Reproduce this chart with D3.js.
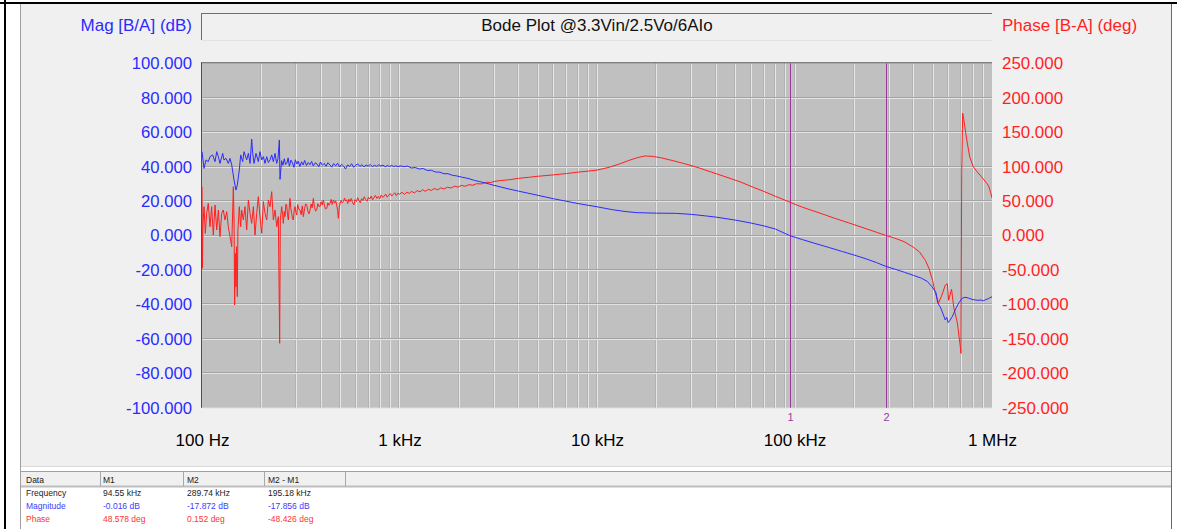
<!DOCTYPE html>
<html>
<head>
<meta charset="utf-8">
<script src="https://cdn.jsdelivr.net/npm/d3@7"></script>
<style>
  html, body { margin: 0; padding: 0; background: #ffffff; }
  svg { display: block; }
  text { font-family: "Liberation Sans", Arial, sans-serif; }
</style>
</head>
<body>
<svg id="chart" width="1180" height="529"></svg>
<script>
// ---- Measured loop response: gain (dB) ----
const magFreqHz = [
  100, 102.4, 104.8, 107.6, 109.8, 113.2, 116.4, 118.7, 121, 123.3, 127.3, 129.2, 132.3, 135.9, 138.6, 141.4,
  145.3, 148.6, 150.9, 154.5, 157, 160.7, 163.2, 168.4, 171.7, 175.1, 178.5, 180.6, 183.4, 187.7, 192.9, 196.6,
  200.6, 204.5, 208.5, 212.6, 216.8, 221, 225.4, 229.8, 234.3, 238.9, 242.6, 246.4, 248.3,
  253, 257, 261, 265, 269, 273, 277, 282, 287, 292, 297, 302, 307, 313, 319, 325,
  331, 338, 345, 352, 359, 366, 374, 382, 390, 398, 407, 416, 425, 434, 444, 454,
  464, 475, 486, 497, 509, 521, 533, 546, 559, 572, 586, 600, 615, 630, 645, 661,
  677, 694, 711, 729, 747, 766, 785, 805, 825, 846, 867, 889, 912, 935, 958, 982,
  1006, 1050, 1100, 1150, 1200, 1260, 1320, 1380, 1450, 1520, 1600, 1680, 1760, 1850, 1950, 2050,
  2150, 2250, 2400, 2550, 2700, 2850, 3000, 3500, 4000, 5000, 6000, 7000, 8000, 10000, 12000, 14000,
  16000, 20000, 25000, 30000, 35000, 40000, 50000, 60000, 70000, 80000, 94550, 110000, 130000, 150000, 175000, 200000,
  230000, 260000, 289740, 320000, 360000, 400000, 440000, 470000, 495000, 520000, 531000, 550000, 565000, 580000, 590000, 600000,
  610000, 630000, 655000, 680000, 705000, 730000, 760000, 800000, 850000, 880000, 900000, 930000, 960000, 1000000
];
const magDb = [
  48.7, 39.0, 43.9, 42.9, 45.8, 46.8, 42.9, 48.7, 45.8, 41.9, 47.7, 43.9, 44.8, 41.9, 44.8, 41.0,
  32.2, 26.4, 29.3, 38.1, 46.8, 42.9, 48.7, 43.9, 47.7, 41.9, 56.0, 47.7, 41.9, 47.7, 42.9, 48.7,
  43.9, 45.8, 41.9, 45.8, 42.4, 43.9, 46.8, 42.9, 47.7, 41.9, 44.8, 55.5, 32.6,
  43.5, 40.8, 44.6, 41.2, 42.0, 45.1, 40.3, 43.8, 42.2, 39.6, 44.0, 41.5, 43.2, 40.1, 42.8, 41.0,
  43.6, 40.6, 42.4, 41.1, 43.0, 40.4, 42.2, 41.6, 39.9, 42.7, 40.8, 41.9, 40.2, 42.3, 41.0, 39.7,
  41.8, 40.5, 42.0, 39.8, 41.4, 40.3, 38.6, 41.0, 40.1, 41.7, 39.6, 40.9, 41.6, 40.2, 41.1, 39.9,
  40.9, 40.3, 41.3, 40.0, 40.8, 40.2, 41.1, 40.4, 40.9, 39.9, 40.7, 40.1, 40.8, 40.0, 40.5, 39.9,
  40.5, 40.0, 40.3, 39.2, 39.5, 38.6, 38.9, 37.8, 37.9, 36.9, 36.8, 35.9, 35.9, 35.0, 34.6, 34.0,
  33.5, 33.0, 32.0, 31.3, 30.6, 29.9, 29.2, 27.3, 25.8, 23.4, 21.4, 19.9, 18.6, 16.7, 15.0, 13.9,
  13.3, 13.0, 12.9, 12.3, 11.5, 10.7, 9.0, 7.3, 5.6, 3.8, -0.016, -2.4, -4.9, -7.0, -9.3, -11.3,
  -13.5, -15.7, -17.872, -19.4, -21.3, -23.1, -24.8, -26.6, -29.5, -33.0, -39.0, -42.0, -45.5, -49.0, -47.5, -50.5,
  -49.5, -47.0, -42.5, -39.0, -36.5, -35.8, -36.3, -37.2, -37.6, -37.4, -38.0, -37.2, -36.6, -35.5
];

// ---- Measured loop response: phase (deg) ----
const phaseFreqHz = [
  100, 100.5, 101, 102.4, 103.9, 105.6, 107.6, 109.8, 111.9, 114.1, 116.4, 118.7, 121, 123.3, 125.8, 128.2,
  130.7, 133.4, 135.9, 138.6, 141.4, 144.1, 145.3, 146.3, 147.3, 148.6, 149.5, 150.9, 152, 154.5, 157, 158.8,
  161.9, 165, 168.4, 171.7, 175.1, 178.5, 182, 185.6, 189.2, 192.9, 196.6, 200.6, 204.5, 208.5, 212.6, 216.8,
  221, 225.4, 229.8, 234.3, 238.9, 243.5, 245.4, 247.3, 249.2, 253.2, 256, 258.1,
  261, 263.2, 266, 268.4, 271, 273.7, 276, 279, 281.5, 284.4, 287, 290, 293, 295.7, 299, 301.7,
  305, 309, 313.6, 318, 322, 326, 331, 335, 339, 344, 348, 352.4, 357, 361, 366.4, 371,
  376, 380.9, 386, 391, 396, 401, 406, 411.7, 417, 422, 428, 434, 439, 445, 451, 456,
  462.7, 469, 475, 481, 486, 490.5, 495, 500, 507, 513, 520, 527, 533, 540.6, 547, 554,
  562, 570, 578, 587, 596, 605, 614, 623, 633, 643, 653, 663, 674, 685, 696, 707,
  719, 731, 743, 755, 768, 781, 794, 808, 822, 836, 851, 866, 881, 897, 913, 929,
  946, 963, 981, 1000, 1030, 1060, 1090, 1120, 1150, 1190, 1230, 1270, 1310, 1350, 1400, 1450,
  1500, 1560, 1620, 1680, 1750, 1820, 1900, 1980, 2060, 2150, 2250, 2350, 2450, 2600, 2750, 2900,
  3050, 3300, 3600, 4000, 4500, 5000, 6000, 7000, 8000, 9000, 10000, 11500, 13000, 14500, 16000, 17500,
  19000, 21000, 24000, 28000, 33000, 38000, 45000, 53000, 62000, 70000, 80000, 94550, 110000, 130000, 160000, 190000,
  230000, 260000, 289740, 320000, 360000, 400000, 430000, 460000, 480000, 500000, 515000, 536000, 555000, 580000, 594000, 603000,
  624000, 640000, 668000, 690000, 696600, 702300, 710400, 720000, 745000, 770000, 803000, 850000, 880000, 912000, 940000, 962000,
  985000, 1000000
];
const phaseDeg = [
  70.9, -47.5, 12.9, 41.9, 3.2, 32.3, 46.8, 12.9, 41.9, 0.8, 44.3, 8.1, 37.1, -1.6, 32.3, 37.1,
  22.6, 34.7, 12.9, -1.6, -16.1, 70.9, 22.6, -100.8, -25.8, -74.2, -16.1, -88.7, 8.1, 41.9, 12.9, 37.1,
  22.6, 41.9, 8.1, 51.6, 32.3, 17.7, 41.9, 0.8, 32.3, 56.4, 27.4, 3.2, 49.2, 32.3, 22.6, 51.6,
  41.9, 63.7, 22.6, 37.1, 12.9, 27.4, -64.5, -156.4, 22.6, 41.9, 30.5, 17.7,
  35.0, 27.4, 45.5, 44.3, 30.1, 22.6, 38.0, 54.0, 40.2, 32.3, 24.6, 22.6, 36.8, 41.9, 33.5, 29.8,
  45.0, 38.5, 37.1, 30.2, 43.0, 27.4, 39.8, 46.0, 44.3, 35.2, 31.5, 37.1, 45.8, 40.1, 54.0, 41.0,
  35.5, 37.1, 46.2, 42.5, 41.9, 49.0, 44.6, 51.6, 43.5, 38.8, 39.5, 47.5, 44.0, 46.8, 52.5, 45.2,
  51.6, 47.0, 50.5, 44.3, 36.0, 25.0, 40.0, 46.8, 51.0, 47.5, 49.2, 54.5, 50.0, 51.6, 46.5, 52.8,
  49.2, 53.8, 48.0, 44.5, 52.0, 49.5, 55.0, 50.8, 47.6, 53.5, 51.0, 56.2, 52.1, 49.8, 55.6, 53.0,
  57.4, 51.9, 55.2, 58.3, 54.0, 56.8, 53.2, 58.9, 55.5, 57.0, 60.2, 55.8, 58.4, 61.0, 57.2, 59.6,
  62.1, 58.0, 61.5, 60.0, 62.8, 59.6, 63.1, 61.2, 64.0, 62.0, 65.2, 63.4, 66.5, 64.2, 67.0, 65.5,
  68.2, 66.4, 69.3, 67.5, 70.2, 69.0, 71.6, 70.3, 72.8, 71.5, 73.9, 73.0, 75.2, 75.0, 77.3, 77.0,
  78.8, 80, 81, 83, 84.5, 86, 88, 90, 92, 93.5, 95, 99, 104, 109, 113, 115.5,
  115, 113, 109, 104, 98, 92, 85, 78, 70, 64, 57, 48.578, 41, 34, 25, 18,
  10, 4.8, 0.152, -3.5, -9, -17, -24, -36, -48, -65, -82, -98, -88, -72, -70, -94,
  -78, -104, -127, -160, -171, 91, 177.8, 168, 139, 115, 100, 91, 86, 80.6, 76, 72,
  62, 54.6
];

// ---- Axis ticks and labels ----
const magTicks = [100, 80, 60, 40, 20, 0, -20, -40, -60, -80, -100];
const phaseTicks = [250, 200, 150, 100, 50, 0, -50, -100, -150, -200, -250];
const freqTickValues = [100, 1000, 10000, 100000, 1000000];
const freqTickLabels = ["100 Hz", "1 kHz", "10 kHz", "100 kHz", "1 MHz"];

// ---- Cursors ----
const markerFreqHz = [94550, 289740];
const markerNames = ["1", "2"];

// ---- Cursor read-out table ----
const tableHeader = ["Data", "M1", "M2", "M2 - M1"];
const tableRowNames = ["Frequency", "Magnitude", "Phase"];
const tableM1 = ["94.55 kHz", "-0.016 dB", "48.578 deg"];
const tableM2 = ["289.74 kHz", "-17.872 dB", "0.152 deg"];
const tableDelta = ["195.18 kHz", "-17.856 dB", "-48.426 deg"];

const titleText = "Bode Plot @3.3Vin/2.5Vo/6AIo";
const magLabel = "Mag [B/A] (dB)";
const phaseLabel = "Phase [B-A] (deg)";

const BLUE = "#2b2bff";
const RED = "#ff1f1f";
const PURPLE = "#9b3a9e";

const svg = d3.select("#chart");

// ---- Window frame ----
svg.append("rect").attr("x", 0).attr("y", 0).attr("width", 1180).attr("height", 529).attr("fill", "#ffffff");
svg.append("rect").attr("x", 21).attr("y", 4).attr("width", 1150).attr("height", 462).attr("fill", "#f0f0f0");
svg.append("rect").attr("x", 0).attr("y", 2).attr("width", 1177).attr("height", 2).attr("fill", "#000000");
svg.append("rect").attr("x", 4).attr("y", 0).attr("width", 2).attr("height", 529).attr("fill", "#000000");
svg.append("line").attr("x1", 20.5).attr("x2", 20.5).attr("y1", 4).attr("y2", 529).attr("stroke", "#a0a0a0");
svg.append("line").attr("x1", 1171.5).attr("x2", 1171.5).attr("y1", 4).attr("y2", 529).attr("stroke", "#6a6a6a");

// ---- Plot area ----
const L = 202, R = 992, T = 63.3, B = 407.8;
const x = d3.scaleLog().domain([100, 1e6]).range([L, R]);
const yMag = d3.scaleLinear().domain([-100, 100]).range([B, T]);
const yPh = d3.scaleLinear().domain([-250, 250]).range([B, T]);

svg.append("rect").attr("x", L).attr("y", T).attr("width", R - L).attr("height", B - T).attr("fill", "#c0c0c0");

const grid = svg.append("g");
// vertical grid: every 1..9 step of each decade
const vTicks = x.ticks().filter(v => v > 100 && v < 1e6);
vTicks.forEach(v => {
  const px = Math.round(x(v));
  grid.append("line").attr("x1", px - 0.5).attr("x2", px - 0.5).attr("y1", T).attr("y2", B).attr("stroke", "#b2b2b2");
  grid.append("line").attr("x1", px + 0.5).attr("x2", px + 0.5).attr("y1", T).attr("y2", B).attr("stroke", "#e6e6e6");
});
// horizontal grid at magnitude ticks
magTicks.filter(v => v > -100 && v < 100).forEach(v => {
  const py = Math.round(yMag(v));
  grid.append("line").attr("x1", L).attr("x2", R).attr("y1", py - 0.5).attr("y2", py - 0.5).attr("stroke", "#a4a4a4");
  grid.append("line").attr("x1", L).attr("x2", R).attr("y1", py + 0.5).attr("y2", py + 0.5).attr("stroke", "#e2e2e2");
});

// sunken frame
svg.append("line").attr("x1", L - 1).attr("x2", R).attr("y1", T - 0.5).attr("y2", T - 0.5).attr("stroke", "#505050");
svg.append("line").attr("x1", L - 0.5).attr("x2", L - 0.5).attr("y1", T - 1).attr("y2", B).attr("stroke", "#505050");
svg.append("line").attr("x1", L).attr("x2", R).attr("y1", B + 0.5).attr("y2", B + 0.5).attr("stroke", "#e8e8e8");

// ---- Cursors ----
markerFreqHz.forEach((f, i) => {
  const px = Math.round(x(f)) + 0.5;
  svg.append("line").attr("x1", px).attr("x2", px).attr("y1", T).attr("y2", B).attr("stroke", PURPLE).attr("stroke-width", 1);
  svg.append("text").attr("x", px).attr("y", 421).attr("text-anchor", "middle")
    .attr("font-size", 11).attr("fill", PURPLE).text(markerNames[i]);
});

// ---- Curves ----
const plotClip = svg.append("clipPath").attr("id", "plotClip");
plotClip.append("rect").attr("x", L).attr("y", T).attr("width", R - L).attr("height", B - T);
const curves = svg.append("g").attr("clip-path", "url(#plotClip)");

const magLine = d3.line().x((d, i) => x(magFreqHz[i])).y(d => yMag(d));
const phLine = d3.line().x((d, i) => x(phaseFreqHz[i])).y(d => yPh(d));

curves.append("path").datum(phaseDeg).attr("d", phLine)
  .attr("fill", "none").attr("stroke", RED).attr("stroke-width", 1);
curves.append("path").datum(magDb).attr("d", magLine)
  .attr("fill", "none").attr("stroke", BLUE).attr("stroke-width", 1);

// ---- Axes ----
const fmt3 = d3.formatLocale({ decimal: ".", thousands: ",", grouping: [3], currency: ["", ""], minus: "-" }).format(".3f");
const axL = svg.append("g").attr("transform", `translate(${L - 10},0)`)
  .call(d3.axisLeft(yMag).tickValues(magTicks).tickFormat(fmt3).tickSize(0).tickPadding(0));
axL.select(".domain").remove();
axL.selectAll("text").attr("fill", BLUE).attr("font-size", 16.7).attr("font-family", "Liberation Sans, Arial, sans-serif");

const axR = svg.append("g").attr("transform", `translate(${R + 10},0)`)
  .call(d3.axisRight(yPh).tickValues(phaseTicks).tickFormat(fmt3).tickSize(0).tickPadding(0));
axR.select(".domain").remove();
axR.selectAll("text").attr("fill", RED).attr("font-size", 16.9).attr("font-family", "Liberation Sans, Arial, sans-serif");

const axB = svg.append("g").attr("transform", `translate(0,${B + 26})`)
  .call(d3.axisBottom(x).tickValues(freqTickValues).tickFormat((d, i) => freqTickLabels[i]).tickSize(0).tickPadding(0));
axB.select(".domain").remove();
axB.selectAll("text").attr("fill", "#000000").attr("font-size", 17).attr("font-family", "Liberation Sans, Arial, sans-serif");

// ---- Header: axis names and title box ----
svg.append("text").attr("x", 192).attr("y", 31).attr("text-anchor", "end")
  .attr("font-size", 17).attr("fill", BLUE).text(magLabel);
svg.append("text").attr("x", 1002).attr("y", 31).attr("text-anchor", "start")
  .attr("font-size", 17).attr("fill", RED).text(phaseLabel);

svg.append("line").attr("x1", 201).attr("x2", 992).attr("y1", 13.5).attr("y2", 13.5).attr("stroke", "#6e6e6e");
svg.append("line").attr("x1", 201.5).attr("x2", 201.5).attr("y1", 13).attr("y2", 40).attr("stroke", "#6e6e6e");
svg.append("line").attr("x1", 202).attr("x2", 992).attr("y1", 40.5).attr("y2", 40.5).attr("stroke", "#e2e2e2");
svg.append("text").attr("x", 597).attr("y", 31).attr("text-anchor", "middle")
  .attr("font-size", 17).attr("fill", "#111111").text(titleText);

// ---- Cursor read-out table ----
const tbl = svg.append("g");
tbl.append("line").attr("x1", 21).attr("x2", 1171).attr("y1", 466.5).attr("y2", 466.5).attr("stroke", "#dadada");
tbl.append("rect").attr("x", 21).attr("y", 472).attr("width", 1150).attr("height", 14).attr("fill", "#f0f0f0");
tbl.append("rect").attr("x", 21).attr("y", 487).attr("width", 1150).attr("height", 42).attr("fill", "#ffffff");
tbl.append("line").attr("x1", 21).attr("x2", 1171).attr("y1", 471.5).attr("y2", 471.5).attr("stroke", "#a0a0a0");
tbl.append("line").attr("x1", 21).attr("x2", 1171).attr("y1", 486.5).attr("y2", 486.5).attr("stroke", "#bdbdbd").attr("stroke-width", 2);

const colX = [26, 103, 187, 268];
const sepX = [100, 183, 264, 345];
sepX.forEach(sx => {
  tbl.append("line").attr("x1", sx + 0.5).attr("x2", sx + 0.5).attr("y1", 472).attr("y2", 486)
    .attr("stroke", "#a8a8a8");
});
tableHeader.forEach((h, i) => {
  tbl.append("text").attr("x", colX[i]).attr("y", 482.5).attr("font-size", 8.5).attr("fill", "#222").text(h);
});
const rowColors = ["#222222", "#3b3bff", "#ff3333"];
const rowY = [496, 509, 522];
tableRowNames.forEach((name, r) => {
  const cells = [name, tableM1[r], tableM2[r], tableDelta[r]];
  cells.forEach((c, i) => {
    tbl.append("text").attr("x", colX[i]).attr("y", rowY[r]).attr("font-size", 8.5)
      .attr("fill", rowColors[r]).text(c);
  });
});
</script>
</body>
</html>
